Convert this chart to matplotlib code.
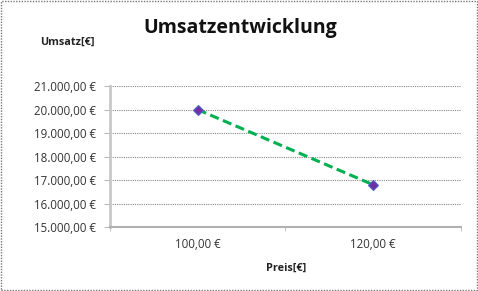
import matplotlib.pyplot as plt
from matplotlib.patches import Rectangle

plt.rcParams['font.family'] = ['Open Sans', 'DejaVu Sans']

preis = ['100,00 €', '120,00 €']
umsatz = [20000, 16800]
y_ticks = [15000, 16000, 17000, 18000, 19000, 20000, 21000]


def euro(v):
    s = '{:,.2f}'.format(v).replace(',', 'X').replace('.', ',').replace('X', '.')
    return s + ' €'


fig = plt.figure(figsize=(4.78, 2.91), dpi=100)
ax = fig.add_axes([0.230, 0.220, 0.734, 0.484])

x = list(range(len(preis)))
ax.plot(x, umsatz, color='#00B050', linestyle=(0, (3, 1.5)), linewidth=2.2, zorder=3)
ax.plot(x, umsatz, linestyle='none', marker='D', markersize=5,
        markerfacecolor='#7030A0', markeredgecolor='#5060D0', markeredgewidth=0.8, zorder=4)

ax.set_xlim(-0.5, 1.5)
ax.set_ylim(y_ticks[0], y_ticks[-1])
ax.set_yticks(y_ticks)
ax.set_yticklabels([euro(v) for v in y_ticks], fontsize=8.3, color='#333333')
ax.set_xticks(x)
ax.set_xticklabels(preis, fontsize=8.3, color='#333333')
ax.tick_params(axis='x', length=0, pad=8)
ax.set_xticks([-0.5, 0.5, 1.5], minor=True)
ax.tick_params(axis='x', which='minor', length=3, color='#bbbbbb')
ax.tick_params(axis='y', length=4, color='#bbbbbb', pad=6)

for v in y_ticks[1:]:
    ax.axhline(v, color='#888888', linestyle=(0, (1, 1)), linewidth=0.8, zorder=1)

for side in ['top', 'right']:
    ax.spines[side].set_visible(False)
ax.spines['left'].set_color('#c8c8c8')
ax.spines['left'].set_linewidth(2)
ax.spines['bottom'].set_color('#b0b0b0')
ax.spines['bottom'].set_linestyle((0, (2, 1)))
ax.spines['bottom'].set_linewidth(1.5)

fig.text(0.502, 0.905, 'Umsatzentwicklung', fontsize=14, fontweight='bold',
         ha='center', va='center', color='#111111')
fig.text(0.140, 0.855, 'Umsatz[€]', fontsize=7.8, fontweight='bold',
         ha='center', va='center', color='#222222')
fig.text(0.598, 0.078, 'Preis[€]', fontsize=7.8, fontweight='bold',
         ha='center', va='center', color='#222222')

fig.patches.append(Rectangle((0.002, 0.003), 0.996, 0.994, transform=fig.transFigure,
                             fill=False, edgecolor='#777777', linestyle=(0, (1, 1)), linewidth=1))

fig.savefig('out.png', dpi=100)
